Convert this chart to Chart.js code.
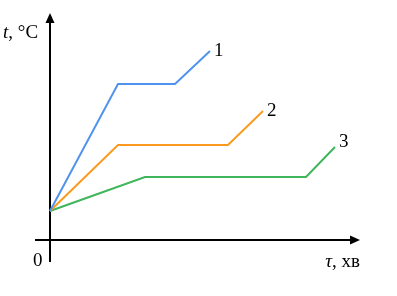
<!DOCTYPE html>
<html>
<head>
<meta charset="utf-8">
<script src="https://cdn.jsdelivr.net/npm/chart.js@4"></script>
<style>
html,body{margin:0;padding:0;background:#fff;}
#wrap{width:397px;height:296px;}
</style>
</head>
<body>
<div id="wrap"><canvas id="c" width="397" height="296"></canvas></div>
<script>
// Data (arbitrary units: time τ, temperature t)
const series1X = [0, 6.8, 12.5, 16.0];
const series1Y = [2.9, 15.6, 15.6, 18.9];
const series2X = [0, 6.8, 17.8, 21.3];
const series2Y = [2.9, 9.5, 9.5, 12.9];
const series3X = [0, 9.5, 25.6, 28.5];
const series3Y = [2.9, 6.3, 6.3, 9.3];
const seriesLabels = ['1', '2', '3'];
const xAxisLabel = 'τ, хв';
const yAxisLabel = 't, °C';
const originLabel = '0';

const colors = ['#5093ef', '#fb9a1e', '#3fb55c'];
const xs = [series1X, series2X, series3X];
const ys = [series1Y, series2Y, series3Y];

const datasets = xs.map((xa, i) => ({
  label: seriesLabels[i],
  data: xa.map((x, j) => ({x: x, y: ys[i][j]})),
  showLine: true,
  borderColor: colors[i],
  borderWidth: 2,
  pointRadius: 0,
  fill: false,
  tension: 0
}));

const axesPlugin = {
  id: 'axesPlugin',
  beforeDatasetsDraw(chart) {
    const ctx = chart.ctx;
    const xs = chart.scales.x, ys = chart.scales.y;
    const x0 = xs.getPixelForValue(0), y0 = ys.getPixelForValue(0);
    const xL = xs.getPixelForValue(xs.min), xR = xs.getPixelForValue(xs.max);
    const yT = ys.getPixelForValue(ys.max), yB = ys.getPixelForValue(ys.min);
    ctx.save();
    ctx.strokeStyle = '#000';
    ctx.fillStyle = '#000';
    ctx.lineWidth = 2;
    // x axis
    ctx.beginPath(); ctx.moveTo(xL, y0); ctx.lineTo(xR - 8, y0); ctx.stroke();
    ctx.beginPath(); ctx.moveTo(xR, y0); ctx.lineTo(xR - 10, y0 - 4.5); ctx.lineTo(xR - 10, y0 + 4.5); ctx.closePath(); ctx.fill();
    // y axis
    ctx.beginPath(); ctx.moveTo(x0, yB); ctx.lineTo(x0, yT + 8); ctx.stroke();
    ctx.beginPath(); ctx.moveTo(x0, yT); ctx.lineTo(x0 - 4.5, yT + 10); ctx.lineTo(x0 + 4.5, yT + 10); ctx.closePath(); ctx.fill();
    ctx.restore();
  },
  afterDatasetsDraw(chart) {
    const ctx = chart.ctx;
    const xs = chart.scales.x, ys = chart.scales.y;
    ctx.save();
    ctx.fillStyle = '#000';
    ctx.textBaseline = 'middle';
    ctx.textAlign = 'left';
    ctx.font = '19px "Liberation Serif", "DejaVu Serif", serif';
    const offs = [[4, 0], [4, 0], [4, -5]];
    chart.data.datasets.forEach((ds, i) => {
      const last = ds.data[ds.data.length - 1];
      ctx.fillText(ds.label, xs.getPixelForValue(last.x) + offs[i][0], ys.getPixelForValue(last.y) + offs[i][1]);
    });
    // origin
    ctx.fillText(originLabel, xs.getPixelForValue(0) - 17, ys.getPixelForValue(0) + 21);
    // y axis label
    ctx.font = 'italic 19px "Liberation Serif", "DejaVu Serif", serif';
    const yParts = yAxisLabel.split(',');
    let px = 3, py = ys.getPixelForValue(ys.max) + 20;
    ctx.fillText(yParts[0], px, py);
    px += ctx.measureText(yParts[0]).width;
    ctx.font = '19px "Liberation Serif", "DejaVu Serif", serif';
    ctx.fillText(',' + yParts[1], px, py);
    // x axis label
    const xParts = xAxisLabel.split(',');
    const xEnd = xs.getPixelForValue(xs.max);
    ctx.font = '19px "Liberation Serif", "DejaVu Serif", serif';
    const restW = ctx.measureText(',' + xParts[1]).width;
    ctx.font = 'italic 19px "Liberation Serif", "DejaVu Serif", serif';
    const tW = ctx.measureText(xParts[0]).width;
    let sx = xEnd - restW - tW;
    const sy = ys.getPixelForValue(0) + 22;
    ctx.fillText(xParts[0], sx, sy);
    ctx.font = '19px "Liberation Serif", "DejaVu Serif", serif';
    ctx.fillText(',' + xParts[1], sx + tW, sy);
    ctx.restore();
  }
};

new Chart(document.getElementById('c'), {
  type: 'scatter',
  data: { datasets: datasets },
  options: {
    responsive: false,
    animation: false,
    layout: { padding: { left: 35, right: 37, top: 13, bottom: 34 } },
    plugins: { legend: { display: false }, tooltip: { enabled: false } },
    scales: {
      x: { type: 'linear', min: -1.5, max: 31, display: false },
      y: { type: 'linear', min: -2.2, max: 22.7, display: false }
    }
  },
  plugins: [axesPlugin]
});
</script>
</body>
</html>
